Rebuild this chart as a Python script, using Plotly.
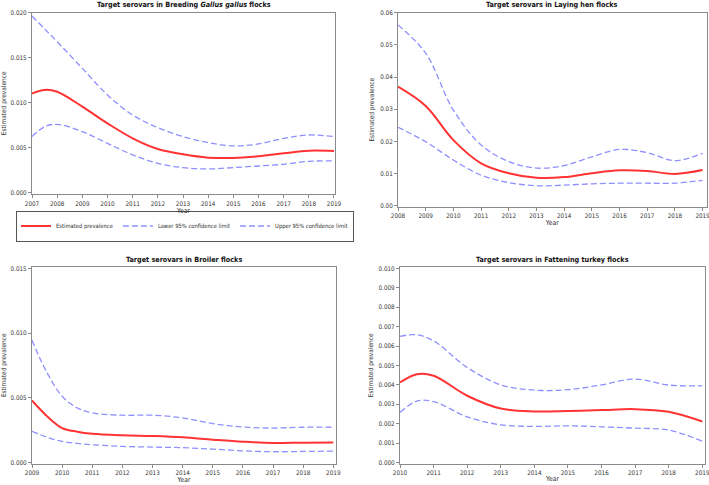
import plotly.graph_objects as go

# Breeding Gallus gallus flocks
yr_breed   = [2007, 2007.5, 2008, 2009, 2010, 2011, 2012, 2013, 2014, 2015, 2016, 2017, 2018, 2019]
est_breed  = [0.0110, 0.0114, 0.0112, 0.00954, 0.00768, 0.00601, 0.00482, 0.00423, 0.00386, 0.00382, 0.00401, 0.00434, 0.00464, 0.00460]
up_breed   = [0.01963, 0.0182, 0.01677, 0.0138, 0.01084, 0.00861, 0.0072, 0.0062, 0.00553, 0.00516, 0.00538, 0.0060, 0.00638, 0.0062]
lo_breed   = [0.0062, 0.0073, 0.00757, 0.00675, 0.00545, 0.00416, 0.00323, 0.00275, 0.0026, 0.00275, 0.00293, 0.00312, 0.00345, 0.00349]

# Laying hen flocks
yr_lay     = [2008, 2009, 2010, 2011, 2012, 2013, 2014, 2015, 2016, 2017, 2018, 2019]
est_lay    = [0.0370, 0.0310, 0.0204, 0.0132, 0.0101, 0.0087, 0.0089, 0.0101, 0.0110, 0.0108, 0.0099, 0.0111]
up_lay     = [0.0562, 0.0474, 0.0297, 0.0189, 0.0137, 0.0117, 0.0125, 0.0152, 0.0175, 0.0165, 0.0140, 0.0163]
lo_lay     = [0.0244, 0.0199, 0.0142, 0.0095, 0.0072, 0.0062, 0.0064, 0.0068, 0.0070, 0.0070, 0.0070, 0.0079]

# Broiler flocks
yr_broil   = [2009, 2009.5, 2010, 2010.5, 2011, 2012, 2013, 2014, 2015, 2016, 2017, 2018, 2019]
est_broil  = [0.00479, 0.00357, 0.00266, 0.00238, 0.00222, 0.0021, 0.00204, 0.00194, 0.00176, 0.0016, 0.0015, 0.00153, 0.00155]
up_broil   = [0.00944, 0.00693, 0.00512, 0.00422, 0.00383, 0.00365, 0.00365, 0.00344, 0.0030, 0.00274, 0.00266, 0.00272, 0.00272]
lo_broil   = [0.00241, 0.00195, 0.00163, 0.00147, 0.00137, 0.00124, 0.00119, 0.00114, 0.00103, 0.0009, 0.00083, 0.00085, 0.00088]

# Fattening turkey flocks
yr_turk    = [2010, 2010.5, 2011, 2012, 2013, 2014, 2015, 2016, 2017, 2018, 2019]
est_turk   = [0.00412, 0.00455, 0.00447, 0.00344, 0.00278, 0.00263, 0.00265, 0.0027, 0.00275, 0.00261, 0.00211]
up_turk    = [0.0065, 0.00658, 0.00627, 0.0049, 0.0040, 0.00373, 0.00375, 0.0040, 0.0043, 0.00399, 0.00395]
lo_turk    = [0.00258, 0.00316, 0.00314, 0.00235, 0.00194, 0.00186, 0.00189, 0.00184, 0.00177, 0.00167, 0.0011]

RED   = "#ff3333"
BLUE  = "#8f8fff"
FRAME = "#8a8a8a"
FONT  = "Liberation Sans Narrow, DejaVu Sans Condensed, Liberation Sans"

panels = [
    # x, est, up, lo, xdomain, ydomain, xrange, yrange, dtick, fmt, title
    (yr_breed, est_breed, up_breed, lo_breed, [32/709, 335/709], [1-194/485, 1-12.7/485],
     [2007, 2019.04], [-0.00019, 0.020], 0.005, ".3f",
     "Target serovars in Breeding <i>Gallus gallus</i> flocks"),
    (yr_lay, est_lay, up_lay, lo_lay, [398/709, 706.5/709], [1-206.7/485, 1-12.7/485],
     [2008, 2019.14], [-0.0003, 0.060], 0.01, ".2f",
     "Target serovars in Laying hen flocks"),
    (yr_broil, est_broil, up_broil, lo_broil, [32/709, 336/709], [1-463.5/485, 1-267/485],
     [2009, 2019.09], [-0.00008, 0.0151], 0.005, ".3f",
     "Target serovars in Broiler flocks"),
    (yr_turk, est_turk, up_turk, lo_turk, [400/709, 705/709], [1-463.5/485, 1-267/485],
     [2010, 2019.08], [-0.00005, 0.01007], 0.001, ".3f",
     "Target serovars in Fattening turkey flocks"),
]

fig = go.Figure()
annotations = []
for i, (x, est, up, lo, xd, yd, xr, yr, dt, fmt, title) in enumerate(panels):
    n = "" if i == 0 else str(i + 1)
    xa, ya = "x" + n, "y" + n
    first = (i == 0)
    fig.add_trace(go.Scatter(
        x=x, y=est, mode="lines", name="Estimated prevalence",
        line=dict(color=RED, width=2, shape="spline"),
        xaxis=xa, yaxis=ya, showlegend=first, legendgroup="est",
    ))
    fig.add_trace(go.Scatter(
        x=x, y=lo, mode="lines", name="Lower 95% confidence limit",
        line=dict(color=BLUE, width=1.3, dash="6px,3px", shape="spline"),
        xaxis=xa, yaxis=ya, showlegend=first, legendgroup="lo",
    ))
    fig.add_trace(go.Scatter(
        x=x, y=up, mode="lines", name="Upper 95% confidence limit",
        line=dict(color=BLUE, width=1.3, dash="6px,3px", shape="spline"),
        xaxis=xa, yaxis=ya, showlegend=first, legendgroup="up",
    ))

    axis_common = dict(
        showline=True, linecolor=FRAME, linewidth=1, mirror=True,
        showgrid=False, zeroline=False, ticks="outside", ticklen=3,
        tickcolor=FRAME, automargin=False, ticklabeloverflow="allow",
        tickfont=dict(size=6.3, color="#333", family=FONT),
    )
    fig.update_layout({
        "xaxis" + n: dict(
            domain=xd, range=xr, dtick=1, tick0=2007, anchor=ya,
            title=dict(text="Year", font=dict(size=6.8, color="#333", family=FONT), standoff=1),
            **axis_common,
        ),
        "yaxis" + n: dict(
            domain=yd, range=yr, dtick=dt, tick0=0, tickformat=fmt, anchor=xa,
            title=dict(text="Estimated prevalence", font=dict(size=6.5, color="#333", family=FONT), standoff=4),
            **axis_common,
        ),
    })
    annotations.append(dict(
        text="<b>" + title + "</b>", xref="paper", yref="paper",
        x=(xd[0] + xd[1]) / 2, y=yd[1] + 0.003, xanchor="center", yanchor="bottom",
        showarrow=False, font=dict(size=7.2, color="#111", family=FONT),
    ))

fig.update_layout(
    width=709, height=485,
    margin=dict(l=0, r=0, t=0, b=0, autoexpand=False),
    template="none",
    paper_bgcolor="white", plot_bgcolor="white",
    annotations=annotations,
    showlegend=True,
    legend=dict(
        orientation="h", x=185/709, y=1-226/485, xanchor="center", yanchor="middle",
        bgcolor="rgba(0,0,0,0)",
        bordercolor="#555", borderwidth=1, font=dict(size=5.8, color="#333", family=FONT),
        itemwidth=30, tracegroupgap=0,
    ),
)

fig.write_html(
    "out.html",
    config={"displayModeBar": False},
    post_script="document.body.style.margin='0';",
)
